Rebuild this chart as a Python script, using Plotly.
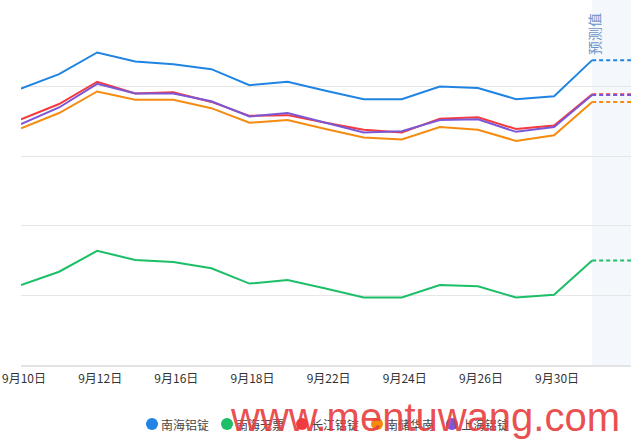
import plotly.graph_objects as go

dates = ["9月10日", "9月11日", "9月12日", "9月13日", "9月16日", "9月17日", "9月18日", "9月19日",
         "9月22日", "9月23日", "9月24日", "9月25日", "9月26日", "9月27日", "9月30日", "预测"]
tick_idx = [0, 2, 4, 6, 8, 10, 12, 14]

names = ["南海铝锭", "南海无票", "长江铝锭", "南储华南", "上海铝锭"]
colors = ["#1f84e3", "#1cbf68", "#f5393d", "#f58b0f", "#7b57d5"]

nanhai = [19397, 19418, 19449, 19436, 19432, 19425, 19402, 19407, 19394, 19382, 19382, 19400, 19398, 19382, 19386, 19438]
nanhai_wp = [19115, 19134, 19164, 19151, 19148, 19139, 19117, 19122, 19110, 19097, 19097, 19115, 19113, 19097, 19101, 19150]
changjiang = [19353, 19375, 19407, 19390, 19392, 19378, 19358, 19359, 19348, 19338, 19334, 19354, 19356, 19339, 19344, 19389]
nanchu = [19340, 19362, 19393, 19381, 19381, 19369, 19348, 19352, 19339, 19327, 19324, 19342, 19338, 19322, 19330, 19378]
shanghai = [19346, 19370, 19404, 19390, 19390, 19379, 19357, 19362, 19348, 19334, 19336, 19352, 19353, 19335, 19342, 19388]

series = [nanhai, nanhai_wp, changjiang, nanchu, shanghai]

W, H = 631, 448
L, R, T, B = 21, 0, 17, 83
pw, ph = W - L - R, H - T - B

def px2paper_x(px):
    return (px - L) / pw

def px2paper_y(py):
    return (H - B - py) / ph

fig = go.Figure()
x = list(range(len(dates)))
last = len(dates) - 1

# forecast shaded area
fig.add_shape(type="rect", xref="x", yref="paper", x0=last, x1=last + 3, y0=0, y1=px2paper_y(0),
              fillcolor="#f4f7fb", line=dict(width=0), layer="below")

for name, col, vals in zip(names, colors, series):
    fig.add_trace(go.Scatter(x=x, y=vals, mode="lines", name=name,
                             line=dict(color=col, width=2), showlegend=False, hoverinfo="skip"))
for name, col, vals in zip(names, colors, series):
    fig.add_trace(go.Scatter(x=[last, last + 3], y=[vals[-1], vals[-1]], mode="lines",
                             line=dict(color=col, width=2, dash="4px,3px"), showlegend=False,
                             hoverinfo="skip"))

# manual legend
leg_x0, leg_step, leg_y = 152, 75, 424
for i, (name, col) in enumerate(zip(names, colors)):
    cx = leg_x0 + i * leg_step
    fig.add_shape(type="circle", xref="paper", yref="paper", xsizemode="pixel", ysizemode="pixel",
                  xanchor=px2paper_x(cx), yanchor=px2paper_y(leg_y), x0=-6, x1=6, y0=-6, y1=6,
                  fillcolor=col, line=dict(width=0))
    fig.add_annotation(x=px2paper_x(cx + 7), y=px2paper_y(leg_y), xref="paper", yref="paper",
                       text=name, showarrow=False, xanchor="left", yanchor="middle",
                       font=dict(family="Noto Sans CJK SC", size=12, color="#444444"))

# forecast label
fig.add_annotation(x=px2paper_x(594), y=px2paper_y(34), xref="paper", yref="paper",
                   text="预测值", textangle=-90, showarrow=False, xanchor="center", yanchor="middle",
                   font=dict(family="Noto Sans CJK SC", size=14, color="#6f94c8"))

# watermark
fig.add_annotation(x=px2paper_x(425), y=px2paper_y(417), xref="paper", yref="paper",
                   text="www.mentuwang.com", showarrow=False, xanchor="center", yanchor="middle",
                   font=dict(family="Liberation Sans", size=40, color="rgba(232,62,62,0.92)"))

fig.update_layout(
    width=W, height=H,
    margin=dict(l=L, r=R, t=T, b=B, pad=0),
    paper_bgcolor="white", plot_bgcolor="white",
    showlegend=False,
    xaxis=dict(range=[0, 16.02], tickvals=tick_idx, ticklabeloverflow="allow", ticklabelshift=3,
               ticklabelstandoff=2,
               ticktext=[dates[i] for i in tick_idx], showgrid=False, zeroline=False,
               showline=True, linecolor="#e3e3e3", linewidth=2, ticks="",
               tickfont=dict(family="Noto Sans CJK SC", size=12, color="#333333")),
    yaxis=dict(range=[19000, 19500], dtick=100, showgrid=True, gridcolor="#e6e6e6", gridwidth=1,
               zeroline=False, showticklabels=False, ticks="", showline=False),
)

fig.write_html("out.html")
